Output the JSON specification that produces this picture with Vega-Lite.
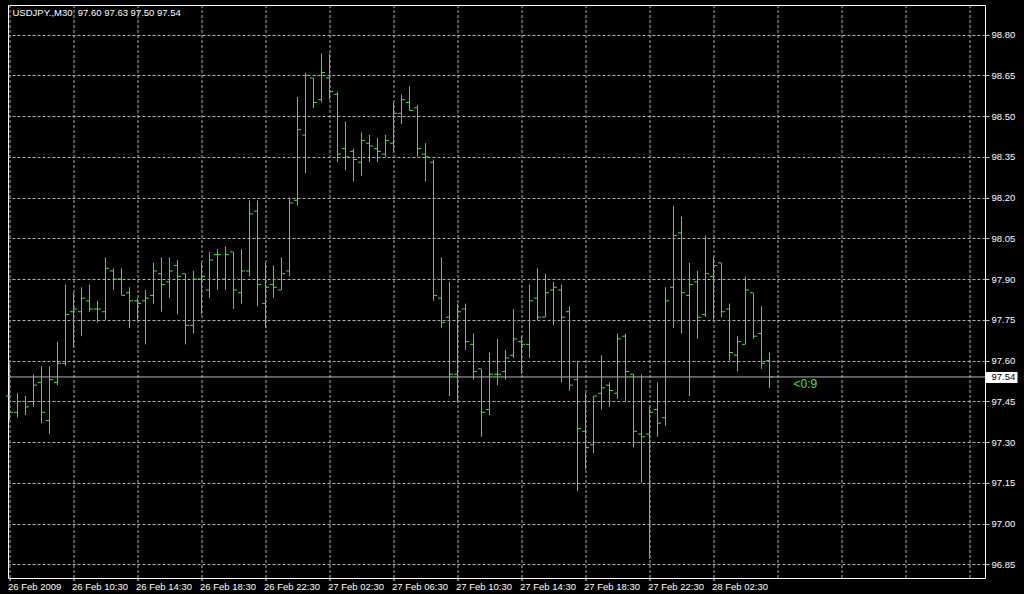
{
  "$schema": "https://vega.github.io/schema/vega-lite/v6.json",
  "width": 977,
  "height": 573,
  "autosize": "none",
  "padding": {"left": 8, "top": 5, "right": 39, "bottom": 16},
  "background": "#000000",
  "config": {
    "view": {"stroke": "#ffffff", "strokeWidth": 1, "fill": "#000000"},
    "axis": {"labelFont": "Liberation Sans", "labelFontSize": 9.5, "labelColor": "#ffffff", "gridColor": "#b0b0b0", "gridDash": [3, 2], "gridWidth": 1, "domain": false, "tickColor": "#c8c8c8", "title": null}
  },
  "title": {"text": "USDJPY.,M30\u00a0 97.60 97.63 97.50 97.54", "anchor": "start", "frame": "group", "orient": "top", "offset": -20, "baseline": "alphabetic", "dx": 4.5, "color": "#ffffff", "font": "Liberation Sans", "fontSize": 9.5, "fontWeight": "normal"},
  "datasets": {
    "bars": [
      {"t":"2009-02-26T06:30:00Z","open":97.47,"high":97.59,"low":97.38,"close":97.41},
      {"t":"2009-02-26T07:00:00Z","open":97.41,"high":97.48,"low":97.39,"close":97.45},
      {"t":"2009-02-26T07:30:00Z","open":97.45,"high":97.47,"low":97.40,"close":97.43},
      {"t":"2009-02-26T08:00:00Z","open":97.45,"high":97.55,"low":97.43,"close":97.51},
      {"t":"2009-02-26T08:30:00Z","open":97.52,"high":97.58,"low":97.37,"close":97.41},
      {"t":"2009-02-26T09:00:00Z","open":97.38,"high":97.58,"low":97.33,"close":97.53},
      {"t":"2009-02-26T09:30:00Z","open":97.52,"high":97.67,"low":97.51,"close":97.59},
      {"t":"2009-02-26T10:00:00Z","open":97.59,"high":97.88,"low":97.58,"close":97.77},
      {"t":"2009-02-26T10:30:00Z","open":97.78,"high":97.85,"low":97.65,"close":97.79},
      {"t":"2009-02-26T11:00:00Z","open":97.78,"high":97.87,"low":97.69,"close":97.83},
      {"t":"2009-02-26T11:30:00Z","open":97.82,"high":97.88,"low":97.78,"close":97.79},
      {"t":"2009-02-26T12:00:00Z","open":97.79,"high":97.82,"low":97.74,"close":97.79},
      {"t":"2009-02-26T12:30:00Z","open":97.78,"high":97.98,"low":97.75,"close":97.94},
      {"t":"2009-02-26T13:00:00Z","open":97.93,"high":97.94,"low":97.86,"close":97.90},
      {"t":"2009-02-26T13:30:00Z","open":97.90,"high":97.94,"low":97.84,"close":97.84},
      {"t":"2009-02-26T14:00:00Z","open":97.85,"high":97.87,"low":97.72,"close":97.82},
      {"t":"2009-02-26T14:30:00Z","open":97.82,"high":97.83,"low":97.75,"close":97.81},
      {"t":"2009-02-26T15:00:00Z","open":97.82,"high":97.86,"low":97.66,"close":97.83},
      {"t":"2009-02-26T15:30:00Z","open":97.84,"high":97.96,"low":97.81,"close":97.93},
      {"t":"2009-02-26T16:00:00Z","open":97.92,"high":97.98,"low":97.78,"close":97.88},
      {"t":"2009-02-26T16:30:00Z","open":97.89,"high":97.98,"low":97.83,"close":97.93},
      {"t":"2009-02-26T17:00:00Z","open":97.95,"high":97.97,"low":97.77,"close":97.91},
      {"t":"2009-02-26T17:30:00Z","open":97.92,"high":97.92,"low":97.66,"close":97.73},
      {"t":"2009-02-26T18:00:00Z","open":97.73,"high":97.93,"low":97.70,"close":97.90},
      {"t":"2009-02-26T18:30:00Z","open":97.90,"high":97.96,"low":97.77,"close":97.91},
      {"t":"2009-02-26T19:00:00Z","open":97.86,"high":98.00,"low":97.83,"close":97.97},
      {"t":"2009-02-26T19:30:00Z","open":97.99,"high":98.01,"low":97.86,"close":97.99},
      {"t":"2009-02-26T20:00:00Z","open":97.90,"high":98.02,"low":97.86,"close":97.99},
      {"t":"2009-02-26T20:30:00Z","open":98.00,"high":98.00,"low":97.79,"close":97.86},
      {"t":"2009-02-26T21:00:00Z","open":97.85,"high":98.01,"low":97.81,"close":97.93},
      {"t":"2009-02-26T21:30:00Z","open":97.93,"high":98.19,"low":97.91,"close":98.14},
      {"t":"2009-02-26T22:00:00Z","open":98.15,"high":98.19,"low":97.80,"close":97.88},
      {"t":"2009-02-26T22:30:00Z","open":97.81,"high":97.96,"low":97.72,"close":97.87},
      {"t":"2009-02-26T23:00:00Z","open":97.88,"high":97.95,"low":97.83,"close":97.87},
      {"t":"2009-02-26T23:30:00Z","open":97.86,"high":97.98,"low":97.86,"close":97.92},
      {"t":"2009-02-27T00:00:00Z","open":97.93,"high":98.20,"low":97.91,"close":98.18},
      {"t":"2009-02-27T00:30:00Z","open":98.19,"high":98.57,"low":98.17,"close":98.45},
      {"t":"2009-02-27T01:00:00Z","open":98.43,"high":98.66,"low":98.29,"close":98.65},
      {"t":"2009-02-27T01:30:00Z","open":98.64,"high":98.64,"low":98.53,"close":98.55},
      {"t":"2009-02-27T02:00:00Z","open":98.56,"high":98.73,"low":98.55,"close":98.66},
      {"t":"2009-02-27T02:30:00Z","open":98.64,"high":98.73,"low":98.56,"close":98.59},
      {"t":"2009-02-27T03:00:00Z","open":98.58,"high":98.59,"low":98.33,"close":98.36},
      {"t":"2009-02-27T03:30:00Z","open":98.38,"high":98.48,"low":98.30,"close":98.35},
      {"t":"2009-02-27T04:00:00Z","open":98.37,"high":98.38,"low":98.26,"close":98.34},
      {"t":"2009-02-27T04:30:00Z","open":98.33,"high":98.44,"low":98.28,"close":98.41},
      {"t":"2009-02-27T05:00:00Z","open":98.40,"high":98.43,"low":98.33,"close":98.39},
      {"t":"2009-02-27T05:30:00Z","open":98.38,"high":98.42,"low":98.33,"close":98.37},
      {"t":"2009-02-27T06:00:00Z","open":98.36,"high":98.43,"low":98.35,"close":98.41},
      {"t":"2009-02-27T06:30:00Z","open":98.40,"high":98.55,"low":98.37,"close":98.51},
      {"t":"2009-02-27T07:00:00Z","open":98.51,"high":98.58,"low":98.47,"close":98.56},
      {"t":"2009-02-27T07:30:00Z","open":98.55,"high":98.61,"low":98.52,"close":98.52},
      {"t":"2009-02-27T08:00:00Z","open":98.53,"high":98.54,"low":98.35,"close":98.38},
      {"t":"2009-02-27T08:30:00Z","open":98.36,"high":98.40,"low":98.26,"close":98.35},
      {"t":"2009-02-27T09:00:00Z","open":98.33,"high":98.34,"low":97.82,"close":97.84},
      {"t":"2009-02-27T09:30:00Z","open":97.83,"high":97.98,"low":97.72,"close":97.74},
      {"t":"2009-02-27T10:00:00Z","open":97.76,"high":97.89,"low":97.47,"close":97.55},
      {"t":"2009-02-27T10:30:00Z","open":97.55,"high":97.81,"low":97.45,"close":97.78},
      {"t":"2009-02-27T11:00:00Z","open":97.79,"high":97.81,"low":97.64,"close":97.67},
      {"t":"2009-02-27T11:30:00Z","open":97.66,"high":97.70,"low":97.53,"close":97.56},
      {"t":"2009-02-27T12:00:00Z","open":97.57,"high":97.57,"low":97.32,"close":97.41},
      {"t":"2009-02-27T12:30:00Z","open":97.42,"high":97.63,"low":97.40,"close":97.55},
      {"t":"2009-02-27T13:00:00Z","open":97.55,"high":97.68,"low":97.51,"close":97.55},
      {"t":"2009-02-27T13:30:00Z","open":97.56,"high":97.64,"low":97.53,"close":97.61},
      {"t":"2009-02-27T14:00:00Z","open":97.62,"high":97.79,"low":97.61,"close":97.68},
      {"t":"2009-02-27T14:30:00Z","open":97.67,"high":97.69,"low":97.55,"close":97.66},
      {"t":"2009-02-27T15:00:00Z","open":97.66,"high":97.88,"low":97.61,"close":97.82},
      {"t":"2009-02-27T15:30:00Z","open":97.83,"high":97.94,"low":97.75,"close":97.76},
      {"t":"2009-02-27T16:00:00Z","open":97.76,"high":97.92,"low":97.76,"close":97.85},
      {"t":"2009-02-27T16:30:00Z","open":97.86,"high":97.89,"low":97.73,"close":97.87},
      {"t":"2009-02-27T17:00:00Z","open":97.86,"high":97.88,"low":97.52,"close":97.76},
      {"t":"2009-02-27T17:30:00Z","open":97.78,"high":97.80,"low":97.49,"close":97.51},
      {"t":"2009-02-27T18:00:00Z","open":97.53,"high":97.60,"low":97.12,"close":97.35},
      {"t":"2009-02-27T18:30:00Z","open":97.34,"high":97.48,"low":97.20,"close":97.28},
      {"t":"2009-02-27T19:00:00Z","open":97.29,"high":97.47,"low":97.26,"close":97.47},
      {"t":"2009-02-27T19:30:00Z","open":97.48,"high":97.62,"low":97.42,"close":97.50},
      {"t":"2009-02-27T20:00:00Z","open":97.51,"high":97.52,"low":97.43,"close":97.49},
      {"t":"2009-02-27T20:30:00Z","open":97.48,"high":97.70,"low":97.46,"close":97.68},
      {"t":"2009-02-27T21:00:00Z","open":97.69,"high":97.70,"low":97.45,"close":97.56},
      {"t":"2009-02-27T21:30:00Z","open":97.55,"high":97.55,"low":97.28,"close":97.34},
      {"t":"2009-02-27T22:00:00Z","open":97.33,"high":97.55,"low":97.15,"close":97.32},
      {"t":"2009-02-27T22:30:00Z","open":97.33,"high":97.43,"low":96.87,"close":97.41},
      {"t":"2009-02-27T23:00:00Z","open":97.42,"high":97.52,"low":97.32,"close":97.37},
      {"t":"2009-02-27T23:30:00Z","open":97.39,"high":97.87,"low":97.36,"close":97.82},
      {"t":"2009-02-28T00:00:00Z","open":97.87,"high":98.17,"low":97.72,"close":98.06},
      {"t":"2009-02-28T00:30:00Z","open":98.07,"high":98.13,"low":97.70,"close":97.85},
      {"t":"2009-02-28T01:00:00Z","open":97.84,"high":97.96,"low":97.47,"close":97.88},
      {"t":"2009-02-28T01:30:00Z","open":97.89,"high":97.93,"low":97.68,"close":97.76},
      {"t":"2009-02-28T02:00:00Z","open":97.77,"high":98.06,"low":97.76,"close":97.92},
      {"t":"2009-02-28T02:30:00Z","open":97.91,"high":97.98,"low":97.75,"close":97.95},
      {"t":"2009-02-28T03:00:00Z","open":97.96,"high":97.96,"low":97.76,"close":97.78},
      {"t":"2009-02-28T03:30:00Z","open":97.79,"high":97.81,"low":97.60,"close":97.63},
      {"t":"2009-02-28T04:00:00Z","open":97.62,"high":97.69,"low":97.56,"close":97.67},
      {"t":"2009-02-28T04:30:00Z","open":97.66,"high":97.91,"low":97.66,"close":97.86},
      {"t":"2009-02-28T05:00:00Z","open":97.85,"high":97.85,"low":97.68,"close":97.69},
      {"t":"2009-02-28T05:30:00Z","open":97.70,"high":97.80,"low":97.57,"close":97.59},
      {"t":"2009-02-28T06:00:00Z","open":97.60,"high":97.63,"low":97.50,"close":97.54}
    ],
    "last": [
      {"t":"2009-02-28T06:00:00Z","close":97.54,"timer":"<0:9"}
    ]
  },
  "layer": [
    {
      "data": {"name": "last"},
      "mark": {"type": "rule", "color": "#b4b4b4", "strokeWidth": 1},
      "encoding": {
        "y": {"field": "close", "type": "quantitative"}
      }
    },
    {
      "data": {"name": "bars"},
      "mark": {"type": "rule", "color": "#40e040", "strokeWidth": 1},
      "encoding": {
        "x": {
          "field": "t", "type": "temporal",
          "scale": {"type": "utc", "domain": [1235629462500, 1235849287500]},
          "axis": {
            "orient": "bottom",
            "values": [1235629800000,1235637000000,1235644200000,1235651400000,1235658600000,1235665800000,1235673000000,1235680200000,1235687400000,1235694600000,1235701800000,1235709000000,1235716200000,1235723400000,1235730600000,1235737800000,1235745000000,1235752200000,1235759400000,1235766600000,1235773800000,1235781000000,1235788200000,1235795400000,1235802600000,1235809800000,1235817000000,1235824200000,1235831400000,1235838600000,1235845800000],
            "translate": 0,
            "labelAlign": "left",
            "labelBaseline": "top",
            "labelOffset": -1.5,
            "labelFlush": false,
            "labelOverlap": false,
            "labelBound": false,
            "labelPadding": 1,
            "tickSize": 3,
            "tickColor": "#ffffff",
            "tickOpacity": {"condition": {"test": "utchours(datum.value) % 4 == 2 && time(datum.value) <= 1235788200000", "value": 1}, "value": 0},
            "labelExpr": "utchours(datum.value) % 4 == 2 && time(datum.value) <= 1235788200000 ? (time(datum.value) == 1235629800000 ? utcFormat(datum.value, '%d %b %Y') : utcFormat(datum.value, '%d %b %H:%M')) : ''"
          }
        },
        "y": {
          "field": "low", "type": "quantitative",
          "scale": {"domain": [96.80033, 98.90854], "zero": false, "nice": false},
          "axis": {
            "orient": "right",
            "values": [96.85, 97.0, 97.15, 97.3, 97.45, 97.54, 97.6, 97.75, 97.9, 98.05, 98.2, 98.35, 98.5, 98.65, 98.8],
            "format": ".2f",
            "labelAlign": "left",
            "labelBaseline": "middle",
            "labelOverlap": false,
            "labelBound": false,
            "labelFlush": false,
            "tickSize": {"condition": {"test": "datum.value == 97.54", "value": 32}, "value": 4},
            "tickWidth": {"condition": {"test": "datum.value == 97.54", "value": 11}, "value": 1},
            "tickColor": {"condition": {"test": "datum.value == 97.54", "value": "#ffffff"}, "value": "#c8c8c8"},
            "labelPadding": {"condition": {"test": "datum.value == 97.54", "value": -26}, "value": 2},
            "labelColor": {"condition": {"test": "datum.value == 97.54", "value": "#000000"}, "value": "#ffffff"},
            "gridOpacity": {"condition": {"test": "datum.value == 97.54", "value": 0}, "value": 1}
          }
        },
        "y2": {"field": "high"}
      }
    },
    {
      "data": {"name": "bars"},
      "mark": {"type": "rule", "color": "#40e040", "strokeWidth": 1, "xOffset": -3.5, "x2Offset": -0.5},
      "encoding": {
        "x": {"field": "t", "type": "temporal"},
        "x2": {"field": "t"},
        "y": {"field": "open", "type": "quantitative"}
      }
    },
    {
      "data": {"name": "bars"},
      "mark": {"type": "rule", "color": "#40e040", "strokeWidth": 1, "xOffset": 0.5, "x2Offset": 3.5},
      "encoding": {
        "x": {"field": "t", "type": "temporal"},
        "x2": {"field": "t"},
        "y": {"field": "close", "type": "quantitative"}
      }
    },
    {
      "data": {"name": "last"},
      "mark": {"type": "text", "color": "#40e040", "align": "left", "baseline": "middle", "dx": 24, "dy": 7, "font": "Liberation Sans", "fontSize": 12},
      "encoding": {
        "x": {"field": "t", "type": "temporal"},
        "y": {"field": "close", "type": "quantitative"},
        "text": {"field": "timer"}
      }
    }
  ]
}
